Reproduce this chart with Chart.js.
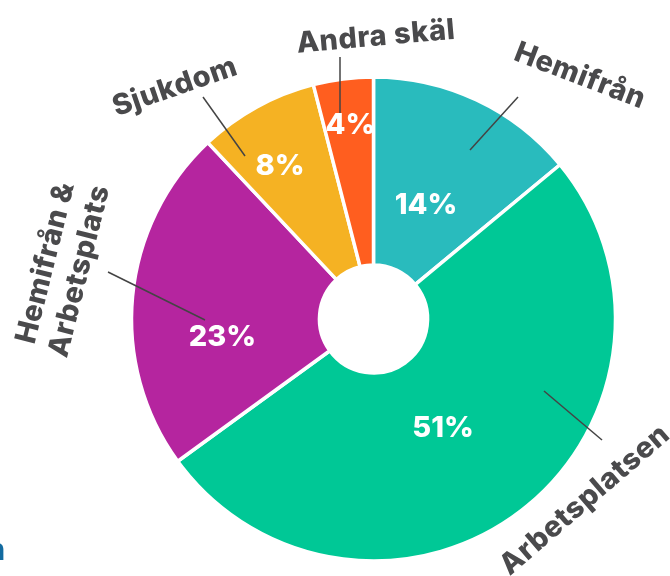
<!DOCTYPE html>
<html>
<head>
<meta charset="utf-8">
<script src="https://cdn.jsdelivr.net/npm/chart.js@4"></script>
<style>
  html, body { margin: 0; padding: 0; background: #ffffff; }
  #wrap { width: 670px; height: 576px; position: relative; }
</style>
</head>
<body>
<div id="wrap"><canvas id="c" width="670" height="576"></canvas></div>
<script>
// ---- data ----
const categories = ['Hemifrån', 'Arbetsplatsen', 'Hemifrån & Arbetsplats', 'Sjukdom', 'Andra skäl'];
const values = [14, 51, 23, 8, 4];
const labelLines = [['Hemifrån'], ['Arbetsplatsen'], ['Hemifrån &', 'Arbetsplats'], ['Sjukdom'], ['Andra skäl']];

// ---- styles / layout ----
const sliceColors = ['#29BBBD', '#00C896', '#B5259F', '#F5B223', '#FF5E1F'];
const textColor = '#4A4A4C';
const FONT = '"Inter", "Open Sans", sans-serif';
// label layout relative to chart centre (annotation placement)
const pctOffsets = [[52.5, -114], [69.5, 109], [-151, 18], [-93.5, -153], [-23, -194]];
const outerText = [
  { off: [206.5, -243], rot: 21 },
  { off: [211.5, 181], rot: -40.7 },
  { off: [-310.8, -52], rot: -76 },
  { off: [-198.5, -232], rot: -19 },
  { off: [2.5, -282], rot: -5 }
];
const leaders = [
  [[144.5, -222], [96.5, -169]],
  [[228.5, 121], [170.5, 72]],
  [[-265.5, -47], [-168.5, 1]],
  [[-170.5, -222], [-128.5, -163]],
  [[-33.5, -262], [-33.5, -206]]
];

const labelPlugin = {
  id: 'labels',
  afterDatasetsDraw(chart) {
    const ctx = chart.ctx;
    const arcs = chart.getDatasetMeta(0).data;
    arcs.forEach((arc, i) => {
      const cx = arc.x, cy = arc.y;
      const l = leaders[i];
      ctx.save();
      ctx.strokeStyle = '#444444';
      ctx.lineWidth = 1.5;
      ctx.beginPath();
      ctx.moveTo(cx + l[0][0], cy + l[0][1]);
      ctx.lineTo(cx + l[1][0], cy + l[1][1]);
      ctx.stroke();
      ctx.restore();
    });
    arcs.forEach((arc, i) => {
      const cx = arc.x, cy = arc.y;
      ctx.save();
      ctx.fillStyle = '#ffffff';
      ctx.font = '800 29px ' + FONT;
      ctx.textAlign = 'center';
      ctx.textBaseline = 'middle';
      ctx.fillText(values[i] + '%', cx + pctOffsets[i][0], cy + pctOffsets[i][1]);
      ctx.restore();
      const t = outerText[i];
      ctx.save();
      ctx.translate(cx + t.off[0], cy + t.off[1]);
      ctx.rotate(t.rot * Math.PI / 180);
      ctx.fillStyle = textColor;
      ctx.font = '800 29px ' + FONT;
      ctx.letterSpacing = '0.6px';
      ctx.textAlign = 'center';
      ctx.textBaseline = 'middle';
      const lines = labelLines[i];
      const lh = 35;
      lines.forEach((s, k) => {
        ctx.fillText(s, 0, (k - (lines.length - 1) / 2) * lh);
      });
      ctx.restore();
    });
    ctx.save();
    ctx.fillStyle = '#136BA0';
    ctx.font = '800 30px ' + FONT;
    ctx.textAlign = 'left';
    ctx.textBaseline = 'alphabetic';
    ctx.fillText('n', -14, 560);
    ctx.restore();
  }
};

new Chart(document.getElementById('c'), {
  type: 'doughnut',
  data: {
    labels: categories,
    datasets: [{
      data: values,
      backgroundColor: sliceColors,
      borderColor: '#ffffff',
      borderWidth: 3.5
    }]
  },
  options: {
    responsive: false,
    animation: false,
    radius: 242,
    cutout: 57,
    layout: { padding: { left: 77, right: 0, top: 62, bottom: 0 } },
    plugins: { legend: { display: false }, tooltip: { enabled: false } }
  },
  plugins: [labelPlugin]
});
</script>
</body>
</html>
